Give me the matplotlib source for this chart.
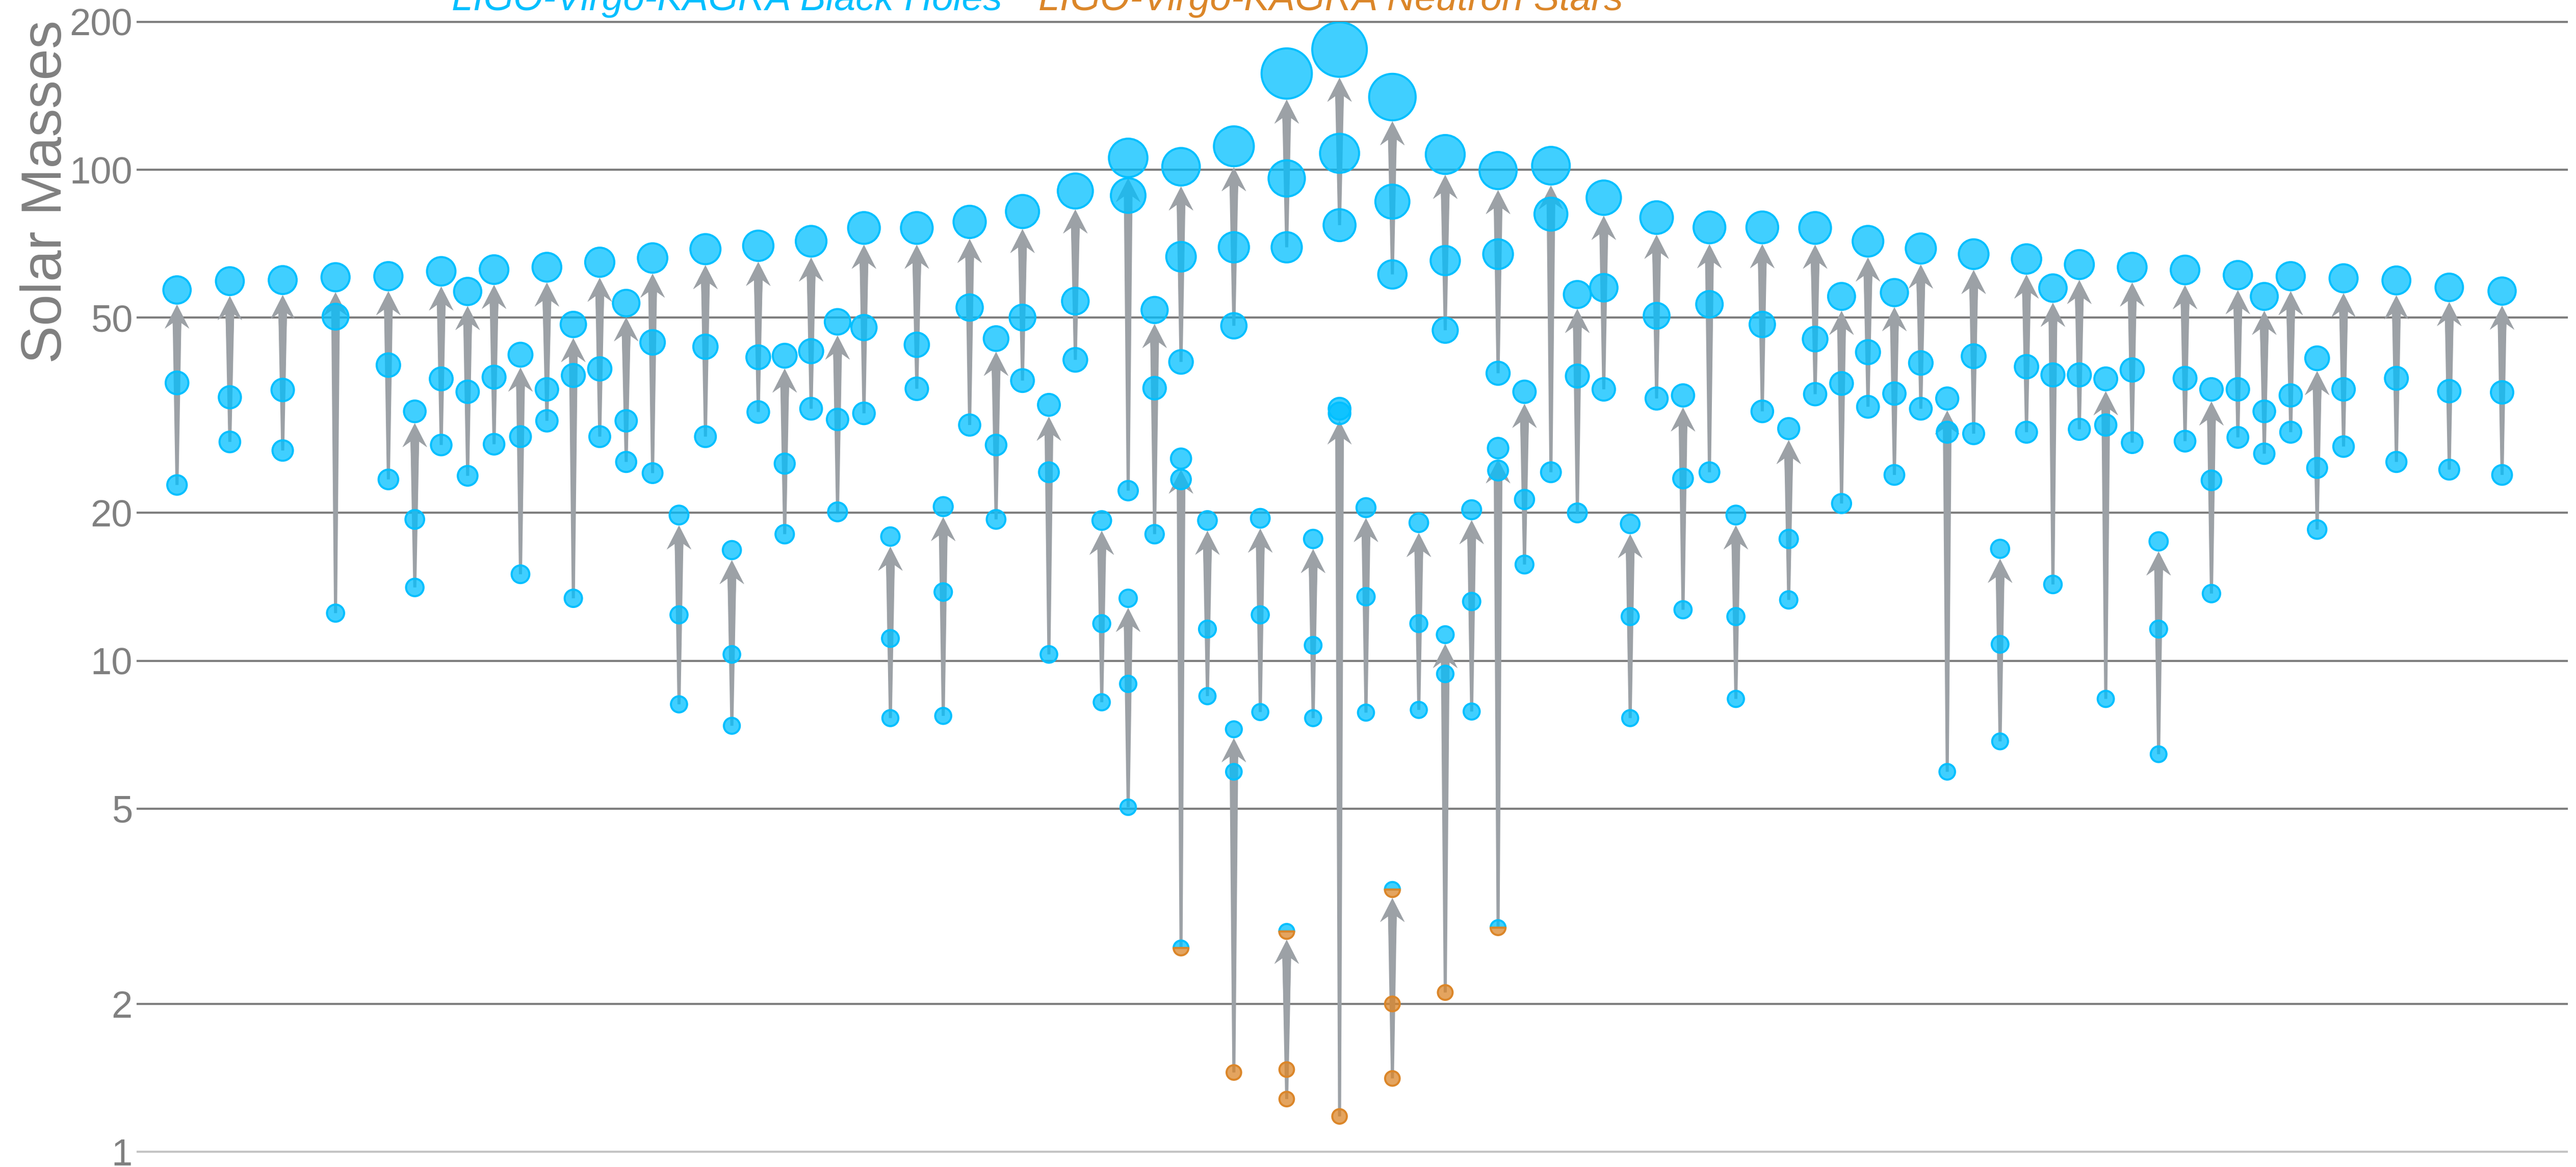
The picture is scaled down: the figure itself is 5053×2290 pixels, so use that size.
import numpy as np
import matplotlib
matplotlib.use('Agg')
from matplotlib import pyplot as plt
from matplotlib.colors import to_rgba
from matplotlib.markers import MarkerStyle
from matplotlib.patches import Polygon
from matplotlib.ticker import NullLocator
from matplotlib.transforms import IdentityTransform

DPI = 300
plt.rcParams['font.family'] = ['Liberation Sans', 'DejaVu Sans']

# horizontal slot of each merger (several small events share a slot with a big one)
slot = [0, 2, 4, 6, 8, 9, 10, 11, 12, 13,
        14, 15, 16, 17, 18, 19, 20, 21, 22, 23,
        24, 25, 26, 27, 28, 29, 30, 31, 32, 33,
        34, 35, 36, 36, 37, 38, 38, 39, 40, 40,
        41, 42, 42, 43, 44, 44, 45, 46, 46, 47,
        48, 48, 49, 50, 50, 51, 52, 53, 54, 55,
        56, 57, 58, 59, 60, 61, 62, 63, 64, 65,
        66, 67, 68, 69, 70, 71, 72, 73, 74, 75,
        76, 77, 78, 79, 80, 81, 82, 84, 86, 88]

# remnant mass after merger (solar masses)
final_mass = [56.9, 59.3, 59.6, 60.4, 60.7, 32.2, 62.1, 56.5, 62.6, 42.0,
              63.3, 48.4, 64.8, 53.5, 66.1, 19.8, 68.9, 16.8, 70.0, 41.8,
              71.5, 49.0, 76.1, 17.9, 76.1, 20.6, 78.3, 45.3, 82.2, 33.2,
              90.5, 19.3, 105.7, 13.4, 51.8, 101.4, 25.8, 19.3, 111.6, 7.25,
              19.5, 157.0, 2.81, 17.7, 175.7, 32.6, 20.5, 140.6, 3.42, 19.1,
              107.4, 11.3, 20.3, 99.6, 27.1, 35.3, 101.9, 55.7, 87.7, 19.0,
              79.9, 34.7, 76.3, 19.8, 76.3, 29.7, 76.1, 55.2, 71.5, 56.2,
              69.1, 34.2, 67.3, 16.9, 65.8, 57.4, 64.1, 37.5, 63.3, 17.5,
              62.5, 35.7, 61.0, 55.2, 60.7, 41.3, 60.1, 59.5, 57.6, 56.6]

# heavier component
primary_mass = [36.8, 34.4, 35.6, 50.2, 40.0, 19.4, 37.5, 35.3, 37.8, 28.6,
                35.7, 38.1, 39.3, 30.8, 44.5, 12.4, 43.6, 10.3, 41.5, 25.2,
                42.7, 31.0, 47.7, 11.1, 44.0, 13.8, 52.4, 27.5, 50.0, 24.2,
                54.0, 11.9, 88.6, 8.97, 35.9, 66.5, 23.4, 11.6, 69.5, 5.94,
                12.4, 96.0, 1.47, 10.75, 108.0, 31.9, 13.5, 86.1, 2.0, 11.9,
                65.3, 9.4, 13.2, 67.3, 24.4, 21.3, 81.2, 38.0, 57.5, 12.3,
                50.4, 23.5, 53.2, 12.3, 48.4, 17.7, 45.2, 36.7, 42.5, 35.0,
                40.4, 29.2, 41.7, 10.8, 39.7, 38.2, 38.2, 30.2, 39.1, 11.6,
                37.6, 23.3, 35.7, 32.2, 34.7, 24.7, 35.7, 37.6, 35.4, 35.2]

# lighter component
secondary_mass = [22.8, 27.9, 26.8, 12.5, 23.4, 14.1, 27.5, 23.8, 27.6, 15.0,
                  30.8, 13.4, 28.6, 25.4, 24.1, 8.15, 28.6, 7.37, 32.1, 18.1,
                  32.6, 20.1, 31.9, 7.64, 35.8, 7.72, 30.2, 19.4, 37.2, 10.3,
                  41.0, 8.23, 22.2, 5.03, 18.1, 40.6, 2.6, 8.47, 48.1, 1.45,
                  7.86, 69.5, 1.28, 7.64, 77.1, 1.18, 7.84, 61.2, 1.41, 7.94,
                  47.1, 2.11, 7.88, 38.5, 2.86, 15.7, 24.2, 20.0, 35.7, 7.64,
                  34.2, 12.7, 24.2, 8.36, 32.2, 13.3, 34.9, 20.9, 32.9, 23.9,
                  32.6, 5.94, 29.0, 6.85, 29.2, 14.3, 29.6, 8.36, 27.8, 6.45,
                  28.0, 13.7, 28.5, 26.4, 29.2, 18.5, 27.3, 25.4, 24.5, 23.9]

y_ticks = [1, 2, 5, 10, 20, 50, 100, 200]
y_tick_labels = ['1', '2', '5', '10', '20', '50', '100', '200']

BH_COLOR = '#00BFFF'
NS_COLOR = '#DB8629'
ARROW_COLOR = '#9CA1A6'
GRID_COLOR = '#7E7E7E'
TEXT_GRAY = '#808080'
EDGE_PX = 4


def kind(m):
    """Neutron star, mass-gap object or black hole."""
    if m < 2.3:
        return 'ns'
    if m < 3.6:
        return 'gap'
    return 'bh'


def outer_px(m):
    """Marker diameter in pixels, edge included."""
    return 32 + 0.45 * m


def marker_size(m):
    return ((outer_px(m) - EDGE_PX) * 72 / DPI) ** 2


def arrow_points(x, y0, y1):
    """Tapered arrow in pixel space from y0 up to the tip at y1."""
    head_len, neck, head_half = 47, 36, 24
    w_tail, w_neck = 3, 8.5
    yn = y1 - neck
    yb = y1 - head_len
    head = [(x + w_neck, yn), (x + head_half, yb), (x, y1),
            (x - head_half, yb), (x - w_neck, yn)]
    if y0 < yn - 2:
        return [(x - w_tail, y0), (x + w_tail, y0)] + head
    return head


fig = plt.figure(figsize=(5053 / DPI, 2290 / DPI), dpi=DPI)
ax = fig.add_axes([270 / 5053, 30 / 2290, 4765 / 5053, 2217 / 2290])
ax.set_yscale('log')
ax.set_xlim(-1.49, 90.45)
ax.set_ylim(1, 200)
ax.set_xticks([])
ax.yaxis.set_minor_locator(NullLocator())
ax.set_yticks(y_ticks)
ax.set_yticklabels(y_tick_labels)
ax.tick_params(axis='y', length=0, pad=2.4, labelsize=17.8,
               labelcolor=TEXT_GRAY)
for s in ax.spines.values():
    s.set_visible(False)
ax.set_axisbelow(True)
ax.yaxis.grid(True, color=GRID_COLOR, linewidth=1.0)
for gl, v in zip(ax.yaxis.get_gridlines(), y_ticks):
    gl.set_clip_on(False)
    if v == 1:
        gl.set_color('#C4C4C4')

# arrows from each component up to the remnant
to_px = ax.transData.transform
for xs, mf, m1, m2 in zip(slot, final_mass, primary_mass, secondary_mass):
    xp, yf = to_px((xs, mf))
    tip = yf - outer_px(mf) / 2
    for m in (m2, m1):
        _, ys = to_px((xs, m))
        if ys >= tip - 10:
            continue
        poly = Polygon(arrow_points(xp, ys, tip), closed=True,
                       transform=IdentityTransform(), facecolor=ARROW_COLOR,
                       edgecolor='none', zorder=2)
        ax.add_artist(poly)

# component and remnant markers
xs_all = np.array(slot * 3, dtype=float)
ms_all = np.array(secondary_mass + primary_mass + final_mass)
kinds = np.array([kind(m) for m in ms_all])
sizes = np.array([marker_size(m) for m in ms_all])
lw = EDGE_PX * 72 / DPI

for k, col in (('bh', BH_COLOR), ('ns', NS_COLOR)):
    sel = kinds == k
    ax.scatter(xs_all[sel], ms_all[sel], s=sizes[sel],
               facecolors=[to_rgba(col, 0.75)], edgecolors=[col],
               linewidths=lw, zorder=3)

sel = kinds == 'gap'
for fill, col in (('top', BH_COLOR), ('bottom', NS_COLOR)):
    ax.scatter(xs_all[sel], ms_all[sel], s=sizes[sel],
               marker=MarkerStyle('o', fillstyle=fill),
               facecolors=[to_rgba(col, 0.75)], edgecolors=[col],
               linewidths=lw, zorder=3)

# key along the top edge
fig.text(886 / 5053, 1 - 20 / 2290, 'LIGO-Virgo-KAGRA Black Holes',
         color=BH_COLOR, fontsize=18, style='italic', ha='left', va='baseline')
fig.text(2037 / 5053, 1 - 20 / 2290, 'LIGO-Virgo-KAGRA Neutron Stars',
         color=NS_COLOR, fontsize=18, style='italic', ha='left', va='baseline')

fig.text(120 / 5053, 1 - 376 / 2290, 'Solar Masses', rotation=90,
         rotation_mode='anchor', ha='center', va='baseline',
         fontsize=26.7, color=TEXT_GRAY)

fig.savefig('out.png', dpi=DPI)
plt.close(fig)
